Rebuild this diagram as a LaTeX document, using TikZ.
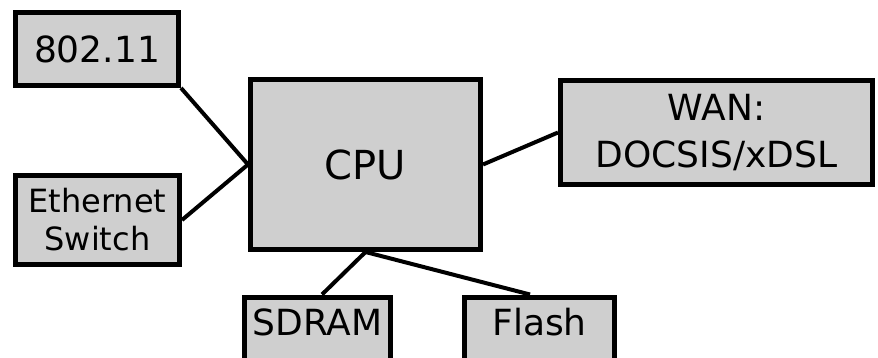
\documentclass[tikz,border=0pt]{standalone}
\usepackage{fontspec}
\setmainfont{DejaVu Sans}
\newlength{\du}
\setlength{\du}{20\unitlength}
\definecolor{dialinefill}{rgb}{0.811765, 0.811765, 0.811765}
\tikzset{
  dialbox/.style={draw=black, fill=dialinefill, line width=0.250000\du, inner sep=0pt, align=center, font=\fontsize{36}{47}\selectfont},
  dialline/.style={draw=black, line width=0.200000\du}
}
\begin{document}
\begin{tikzpicture}
\pgftransformxscale{1.000000}
\pgftransformyscale{-1.000000}
\definecolor{dialinecolor}{rgb}{0.000000, 0.000000, 0.000000}
\pgfsetstrokecolor{dialinecolor}
\clip (0.000000\du,0.000000\du) rectangle (43.900000\du,17.900000\du);
% setfont left to latex
\node[dialbox, minimum width=8.150000\du, minimum height=3.650000\du] (wifi) at (4.850000\du,2.450000\du){802.11};
\node[dialbox, minimum width=8.200000\du, minimum height=4.450000\du, font=\fontsize{32}{38}\selectfont] (eth) at (4.875000\du,11.000000\du){Ethernet\\Switch};
\node[dialbox, minimum width=11.500000\du, minimum height=8.500000\du, font=\fontsize{40}{48}\selectfont] (cpu) at (18.275000\du,8.225000\du){CPU};
\node[dialbox, minimum width=15.600000\du, minimum height=5.200000\du] (wan) at (35.825000\du,6.625000\du){WAN:\\DOCSIS/xDSL};
% memories run off the bottom edge
\node[dialbox, anchor=north, minimum width=7.300000\du, text height=38.5pt, text depth=60pt] (sdram) at (15.875000\du,14.725000\du){SDRAM};
\node[dialbox, anchor=north, minimum width=7.500000\du, text height=38.5pt, text depth=60pt] (flash) at (26.975000\du,14.725000\du){Flash};
\draw[dialline] (wifi.south east)--(cpu.west);
\draw[dialline] (eth.east)--(cpu.west);
\draw[dialline] (cpu.east)--(wan.west);
\draw[dialline] (cpu.south)--([xshift=0.225000\du]sdram.north);
\draw[dialline] (cpu.south)--([xshift=-0.475000\du]flash.north);
\end{tikzpicture}
\end{document}
